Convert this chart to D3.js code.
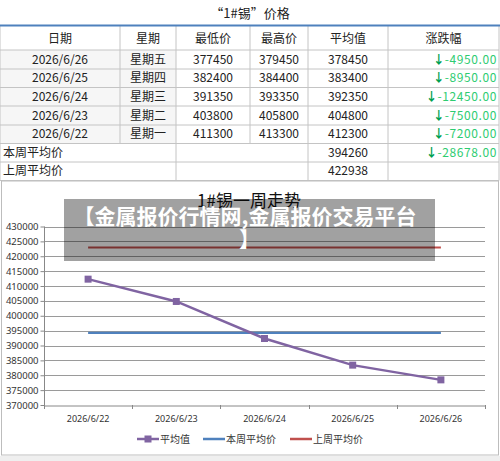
<!DOCTYPE html>
<html><head><meta charset="utf-8">
<script src="https://cdn.jsdelivr.net/npm/d3@7/dist/d3.min.js"></script>
<style>html,body{margin:0;padding:0;background:#fff;}svg{display:block;}</style>
</head><body><svg id="c" width="500" height="461"></svg>
<script>
const tableTitle = "“1#锡”价格";
const headers = ["日期","星期","最低价","最高价","平均值","涨跌幅"];
const dates = ["2026/6/26","2026/6/25","2026/6/24","2026/6/23","2026/6/22"];
const weekdays = ["星期五","星期四","星期三","星期二","星期一"];
const lows = [377450,382400,391350,403800,411300];
const highs = [379450,384400,393350,405800,413300];
const avgs = [378450,383400,392350,404800,412300];
const changes = [-4950,-8950,-12450,-7500,-7200];
const summaryLabels = ["本周平均价","上周平均价"];
const summaryValues = [394260,422938];
const summaryChanges = [-28678,null];
const chartTitle = "1#锡一周走势";
const seriesNames = ["平均值","本周平均价","上周平均价"];
const yTicks = [370000,375000,380000,385000,390000,395000,400000,405000,410000,415000,420000,425000,430000];
const watermark = ["【金属报价行情网,金属报价交易平台","】"];

const svg = d3.select("#c");
const F = "'Noto Sans CJK SC','Noto Sans',sans-serif";
const colors = ["#8064A2","#4F81BD","#C0504D"];

// ---------- table ----------
const colX = [0,120,176,250,308,388,499];
const rowY = [25,50,69,87.5,106,125,143.5,162,180.5];
svg.append("rect").attr("x",0).attr("y",0).attr("width",500).attr("height",181).attr("fill","#fff");
svg.append("text").attr("x",250).attr("y",18).attr("text-anchor","middle")
  .attr("font-family",F).attr("font-size",13).attr("fill","#222").text(tableTitle);
for(let i=0;i<5;i++){
  svg.append("rect").attr("x",0).attr("y",rowY[i+1]).attr("width",176).attr("height",rowY[i+2]-rowY[i+1]).attr("fill","#f6f6f6");
}
const g = svg.append("g").attr("stroke","#c4c4c4").attr("stroke-width",1);
rowY.slice(1).forEach(y=>g.append("line").attr("x1",0).attr("x2",499).attr("y1",y).attr("y2",y));
colX.forEach((x,ci)=>{
  if([0,2,4,5,6].includes(ci)) g.append("line").attr("x1",x).attr("x2",x).attr("y1",25).attr("y2",180.5);
  else g.append("line").attr("x1",x).attr("x2",x).attr("y1",25).attr("y2",rowY[6]);
});
svg.append("line").attr("x1",0).attr("x2",500).attr("y1",25.5).attr("y2",25.5).attr("stroke","#4F81BD").attr("stroke-width",2);

const cx = i => (colX[i]+colX[i+1])/2;
headers.forEach((h,i)=>{
  svg.append("text").attr("x",cx(i)).attr("y",42.5).attr("text-anchor","middle")
    .attr("font-family",F).attr("font-size",12).attr("fill","#222").text(h);
});
const tf = (sel)=>sel.attr("font-family",F).attr("font-size",12).attr("fill","#222");
function changeCell(y,v){
  const t = svg.append("text").attr("x",497).attr("y",y).attr("text-anchor","end")
    .attr("font-family",F).attr("font-size",12);
  t.append("tspan").attr("fill","#00a050").attr("font-weight","bold").text("↓");
  t.append("tspan").attr("fill","#2ecc71").attr("letter-spacing",0.6).text(v.toFixed(2));
}
dates.forEach((d,i)=>{
  const y = (rowY[i+1]+rowY[i+2])/2+4.2;
  const vals=[d,weekdays[i],lows[i],highs[i],avgs[i]];
  vals.forEach((v,c)=>tf(svg.append("text").attr("x",cx(c)).attr("y",y).attr("text-anchor","middle")).text(v));
  changeCell(y,changes[i]);
});
summaryLabels.forEach((l,k)=>{
  const y = (rowY[6+k]+rowY[7+k])/2+4.2;
  tf(svg.append("text").attr("x",3).attr("y",y)).text(l);
  tf(svg.append("text").attr("x",cx(4)).attr("y",y).attr("text-anchor","middle")).text(summaryValues[k]);
  if(summaryChanges[k]!==null) changeCell(y,summaryChanges[k]);
});

// ---------- chart ----------
svg.append("rect").attr("x",1.5).attr("y",181).attr("width",497).attr("height",274).attr("fill","#fff").attr("stroke","#bdbdbd");
svg.append("rect").attr("x",0).attr("y",456).attr("width",500).attr("height",5).attr("fill","#efefef");

const x = d3.scaleBand().domain(dates.slice().reverse()).range([44,485]).padding(0);
const y = d3.scaleLinear().domain([370000,430000]).range([405,226.5]);

svg.append("g").selectAll("line").data(yTicks.slice(1)).join("line")
  .attr("x1",44).attr("x2",485).attr("y1",d=>Math.round(y(d))+0.5).attr("y2",d=>Math.round(y(d))+0.5)
  .attr("stroke","#9a9a9a").attr("stroke-width",1);

const ya = svg.append("g").attr("transform","translate(44.5,0)")
  .call(d3.axisLeft(y).tickValues(yTicks).tickSize(4).tickFormat(d3.format("d")));
ya.select(".domain").attr("stroke","#888").attr("d","M0,405V226.5");
ya.selectAll(".tick line").attr("stroke","#888");
ya.selectAll("text").attr("font-family","'Noto Sans',sans-serif").attr("font-size",9.5).attr("fill","#333").attr("x",-6);

const xa = svg.append("g").attr("transform","translate(0,405.5)")
  .call(d3.axisBottom(x).tickSize(0).tickPadding(10));
xa.select(".domain").attr("stroke","#888");
xa.selectAll("text").attr("font-family","'Noto Sans',sans-serif").attr("font-size",9).attr("fill","#333");
const bounds = x.domain().map(d=>x(d)).concat([x.range()[1]]);
svg.append("g").selectAll("line").data(bounds).join("line")
  .attr("x1",d=>Math.round(d)+0.5).attr("x2",d=>Math.round(d)+0.5).attr("y1",405).attr("y2",409).attr("stroke","#888");

const xs = x.domain();
const px = d=>x(d)+x.bandwidth()/2;
[summaryValues[1],summaryValues[0]].forEach((v,k)=>{
  svg.append("line").attr("x1",px(xs[0])).attr("x2",px(xs[xs.length-1])).attr("y1",y(v)).attr("y2",y(v))
    .attr("stroke",k===0?colors[2]:colors[1]).attr("stroke-width",2.2);
});
const avgPts = xs.map((d,i)=>({d,v:avgs[avgs.length-1-i]}));
svg.append("path").datum(avgPts).attr("fill","none").attr("stroke",colors[0]).attr("stroke-width",2.5)
  .attr("d",d3.line().x(p=>px(p.d)).y(p=>y(p.v)));
svg.append("g").selectAll("rect").data(avgPts).join("rect")
  .attr("x",p=>px(p.d)-3.5).attr("y",p=>y(p.v)-3.5).attr("width",7).attr("height",7).attr("fill",colors[0]);

const legX = [137,203,290];
seriesNames.forEach((n,i)=>{
  svg.append("line").attr("x1",legX[i]).attr("x2",legX[i]+22).attr("y1",439).attr("y2",439).attr("stroke",colors[i]).attr("stroke-width",2.5);
  if(i===0) svg.append("rect").attr("x",legX[i]+7.5).attr("y",435.5).attr("width",7).attr("height",7).attr("fill",colors[0]);
  svg.append("text").attr("x",legX[i]+23).attr("y",443).attr("font-family",F).attr("font-size",10).attr("fill","#333").text(n);
});

svg.append("text").attr("x",249).attr("y",207).attr("text-anchor","middle")
  .attr("font-family",F).attr("font-size",17).attr("fill","#111").text(chartTitle);

// watermark overlay
svg.append("rect").attr("x",64).attr("y",199).attr("width",371).attr("height",62).attr("fill","#000").attr("opacity",0.37);
watermark.forEach((t,i)=>{
  svg.append("text").attr("x",i===0?245:249.5).attr("y",224+i*23).attr("text-anchor","middle")
    .attr("font-family",F).attr("font-weight","bold").attr("font-size",21).attr("fill","#fff").text(t);
});
</script></body></html>
